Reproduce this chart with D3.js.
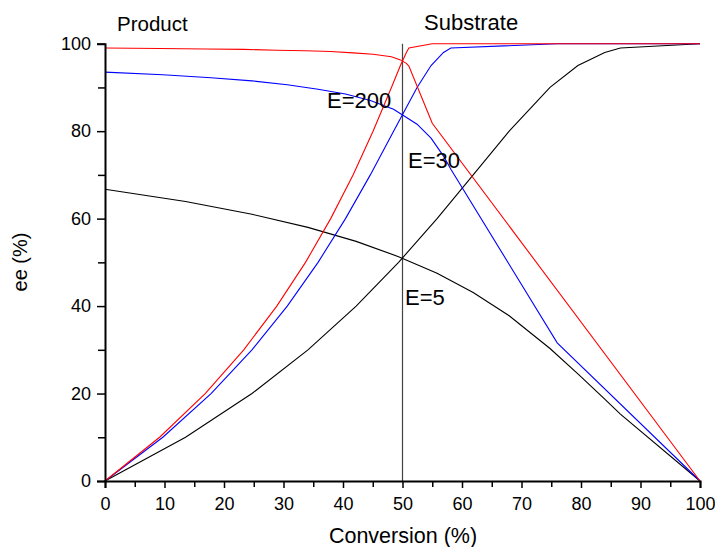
<!DOCTYPE html>
<html>
<head>
<meta charset="utf-8">
<script src="https://cdn.jsdelivr.net/npm/d3@7"></script>
<style>
  body { margin: 0; background: #fff; }
  svg { display: block; font-family: "Liberation Sans", Arial, sans-serif; }
</style>
</head>
<body>
<div id="chart"></div>
<script>
// ee of substrate levels at which each curve was computed
const eeSub5 = [0, 10, 20, 30, 40, 50, 60, 70, 80, 90, 95, 98, 99, 100];
const eeSub = [0, 10, 20, 30, 40, 50, 60, 70, 80, 90, 95, 98, 99, 100, 100];

// E = 5
const conv5 = [0, 13.54, 24.70, 34.11, 42.21, 49.34, 55.81, 61.88, 67.93, 74.79, 79.48, 83.99, 86.62, 100];
const eeProd5 = [66.7, 63.9, 61.0, 58.0, 54.8, 51.3, 47.5, 43.1, 37.8, 30.3, 24.5, 18.7, 15.3, 0];

// E = 30
const conv30 = [0, 9.72, 17.82, 24.70, 30.63, 35.81, 40.42, 44.59, 48.50, 52.45, 54.80, 56.89, 58.13, 76, 100];
const eeProd30 = [93.5, 92.9, 92.2, 91.5, 90.6, 89.6, 88.5, 87.0, 85.0, 81.6, 78.4, 74.3, 71.3, 31.6, 0];

// E = 200
const conv200 = [0, 9.18, 16.84, 23.32, 28.87, 33.70, 37.93, 41.69, 45.05, 48.14, 49.65, 50.65, 51.07, 55, 100];
const eeProd200 = [99.0, 98.9, 98.8, 98.7, 98.5, 98.4, 98.2, 97.9, 97.6, 97.0, 96.3, 95.5, 94.9, 81.8, 0];

const xMajor = [0, 10, 20, 30, 40, 50, 60, 70, 80, 90, 100];
const xMinor = [5, 15, 25, 35, 45, 55, 65, 75, 85, 95];
const yMajor = [0, 20, 40, 60, 80, 100];
const yMinor = [10, 30, 50, 70, 90];

const width = 715, height = 547;

const series = [
  { conv: conv5, sub: eeSub5, prod: eeProd5, color: '#000000' },
  { conv: conv30, sub: eeSub, prod: eeProd30, color: '#0000ff' },
  { conv: conv200, sub: eeSub, prod: eeProd200, color: '#ff0000' }
];

const svg = d3.select('#chart').append('svg')
  .attr('width', width)
  .attr('height', height)
  .attr('viewBox', [0, 0, width, height]);

const x = d3.scaleLinear().domain([0, 100]).range([105, 700]);
const y = d3.scaleLinear().domain([0, 100]).range([481, 43.7]);

const line = d3.line()
  .x(d => x(d[0]))
  .y(d => y(d[1]));

// vertical marker at 50 % conversion
svg.append('line')
  .attr('x1', x(50)).attr('x2', x(50))
  .attr('y1', y(0)).attr('y2', y(100))
  .attr('stroke', '#444')
  .attr('stroke-width', 1.2);

const curves = svg.append('g').attr('fill', 'none').attr('stroke-width', 1.1);
series.forEach(s => {
  curves.append('path')
    .attr('d', line(s.conv.map((c, i) => [c, s.sub[i]])))
    .attr('stroke', s.color);
  curves.append('path')
    .attr('d', line(s.conv.map((c, i) => [c, s.prod[i]])))
    .attr('stroke', s.color);
});

// axes
const styleAxis = g => {
  g.select('.domain').attr('stroke', '#000').attr('stroke-width', 2);
  g.selectAll('.tick line').attr('stroke', '#000').attr('stroke-width', 1.5);
  g.selectAll('.tick text').attr('font-size', 18).attr('fill', '#000')
    .attr('font-family', '"Liberation Sans", Arial, sans-serif');
};

svg.append('g')
  .attr('transform', `translate(0,${y(0)})`)
  .call(d3.axisBottom(x).tickValues(xMinor).tickSize(6).tickFormat(''))
  .call(g => g.select('.domain').remove())
  .call(styleAxis);

svg.append('g')
  .attr('transform', `translate(0,${y(0)})`)
  .call(d3.axisBottom(x).tickValues(xMajor).tickSizeOuter(0).tickSize(7).tickPadding(9))
  .call(styleAxis);

svg.append('g')
  .attr('transform', `translate(${x(0)},0)`)
  .call(d3.axisLeft(y).tickValues(yMinor).tickSize(7).tickFormat(''))
  .call(g => g.select('.domain').remove())
  .call(styleAxis);

svg.append('g')
  .attr('transform', `translate(${x(0)},0)`)
  .call(d3.axisLeft(y).tickValues(yMajor).tickSizeOuter(0).tickSize(8).tickPadding(6))
  .call(styleAxis);

// titles and labels
const label = (txt, px, py, size, anchor = 'start') =>
  svg.append('text')
    .attr('x', px).attr('y', py)
    .attr('font-size', size)
    .attr('text-anchor', anchor)
    .attr('fill', '#000')
    .text(txt);

label('Product', 117, 31, 20.5);
label('Substrate', 424, 30, 22);
label('E=200', 327, 108, 22);
label('E=30', 408, 168, 22);
label('E=5', 405, 305, 22);
label('Conversion (%)', 403, 543, 21.5, 'middle');

svg.append('text')
  .attr('transform', `translate(27,262) rotate(-90)`)
  .attr('font-size', 20)
  .attr('text-anchor', 'middle')
  .text('ee (%)');
</script>
</body>
</html>
